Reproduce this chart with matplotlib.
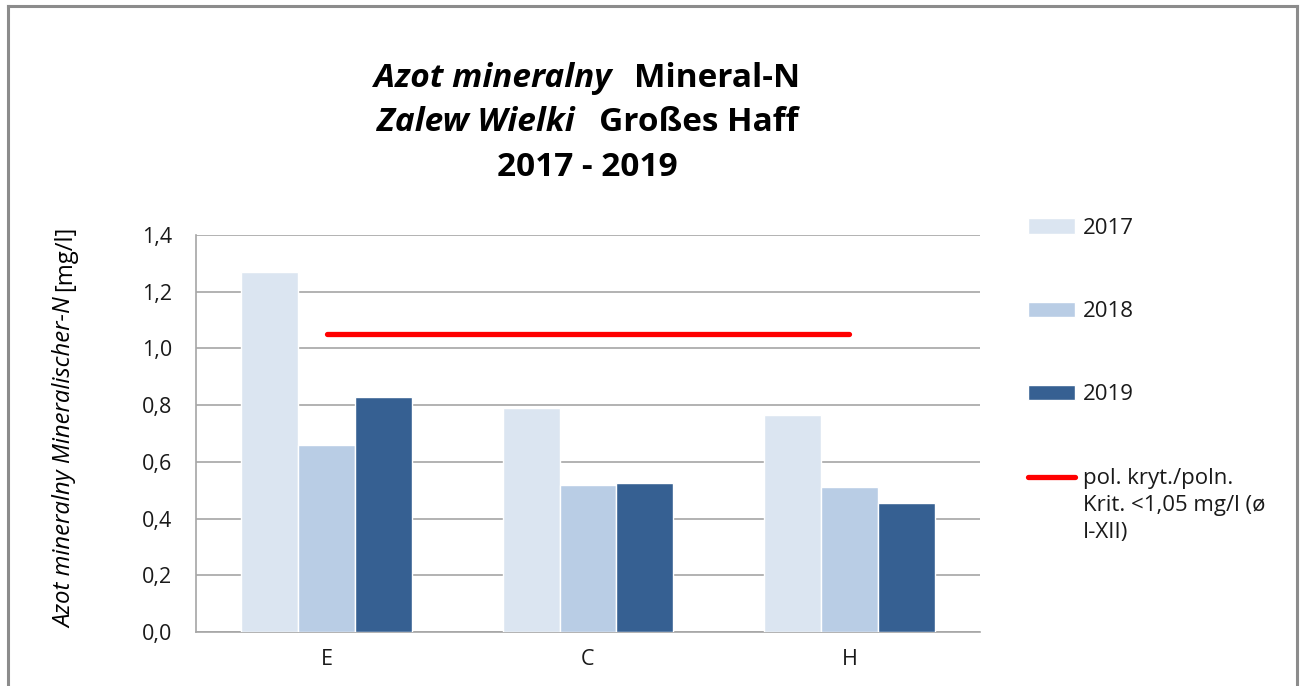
import matplotlib
matplotlib.use("Agg")
import matplotlib.pyplot as plt
import numpy as np
from matplotlib.transforms import IdentityTransform
from matplotlib.lines import Line2D
from matplotlib.ticker import FuncFormatter
from matplotlib.legend_handler import HandlerLine2D

# ---------------- data ----------------
stations = ["E", "C", "H"]
years = ["2017", "2018", "2019"]
values_2017 = [1.27, 0.79, 0.765]
values_2018 = [0.66, 0.52, 0.51]
values_2019 = [0.83, 0.527, 0.456]
criterion_value = 1.05
criterion_label = "pol. kryt./poln.\nKrit. <1,05 mg/l (ø\nI-XII)"
yticks = [0.0, 0.2, 0.4, 0.6, 0.8, 1.0, 1.2, 1.4]

colors = ["#dbe5f1", "#b9cde5", "#366092"]
FONT = "Open Sans"
plt.rcParams["font.family"] = [FONT, "DejaVu Sans"]

W, H = 1303, 686
fig = plt.figure(figsize=(W / 100, H / 100), dpi=100)
fig.patch.set_facecolor("white")

ax = fig.add_axes([196 / W, 1 - 632 / H, (980 - 196) / W, (632 - 235) / H])

x = np.arange(len(stations))
bw = 0.218
series = [values_2017, values_2018, values_2019]
handles = []
for i, (vals, yr) in enumerate(zip(series, years)):
    b = ax.bar(x + (i - 1) * bw, vals, width=bw, color=colors[i],
               edgecolor="white", linewidth=1.0, label=yr, zorder=3)
    handles.append(b)

crit, = ax.plot(x, [criterion_value] * len(x), color="#ff0000", lw=3.8,
                solid_capstyle="round", zorder=4, label=criterion_label)
handles.append(crit)

ax.set_xlim(-0.5, len(stations) - 0.5)
ax.set_ylim(0, 1.4)
ax.set_yticks(yticks)
ax.yaxis.set_major_formatter(FuncFormatter(lambda v, p: f"{v:.1f}".replace(".", ",")))
ax.set_xticks(x)
ax.set_xticklabels(stations)
ax.grid(axis="y", color="#a6a6a6", lw=1.2, zorder=0)
ax.set_axisbelow(True)
for s in ["top", "right"]:
    ax.spines[s].set_visible(False)
for s in ["left", "bottom"]:
    ax.spines[s].set_color("#a6a6a6")
    ax.spines[s].set_linewidth(1.2)
ax.tick_params(axis="y", length=0, pad=17, labelsize=15.5, labelcolor="#1a1a1a")
ax.tick_params(axis="x", length=0, pad=12, labelsize=15.5, labelcolor="#1a1a1a")


class TopLineHandler(HandlerLine2D):
    def __init__(self, shift, **kw):
        super().__init__(**kw)
        self.shift = shift

    def create_artists(self, legend, orig_handle, xdescent, ydescent, width,
                       height, fontsize, trans):
        arts = super().create_artists(legend, orig_handle, xdescent, ydescent,
                                      width, height, fontsize, trans)
        for a in arts:
            a.set_ydata(np.asarray(a.get_ydata(), dtype=float) + self.shift)
        return arts


# legend
leg = fig.legend(handles=handles, labels=years + [criterion_label],
                 loc="upper left", bbox_to_anchor=(1019 / W, 1 - 209 / H),
                 frameon=False, fontsize=16, labelspacing=2.8,
                 handlelength=2.12, handletextpad=0.36, borderaxespad=0,
                 handler_map={crit: TopLineHandler(shift=20.5)})
for t in leg.get_texts():
    t.set_color("#1a1a1a")
leg.get_texts()[3].set_linespacing(1.38)

# ---------- mixed-style text helper ----------
renderer = fig.canvas.get_renderer()

def mixed_line(pieces, cx, cy, size, rotation=0, gap=0.0):
    objs = []
    widths = []
    for txt, style, weight in pieces:
        t = fig.text(0, 0, txt, fontsize=size, style=style, weight=weight,
                     transform=IdentityTransform(), ha="left", va="baseline",
                     rotation=rotation, rotation_mode="anchor", color="black")
        bb = t.get_window_extent(renderer)
        w = bb.height if rotation == 90 else bb.width
        objs.append(t)
        widths.append(w)
    total = sum(widths) + gap * (len(pieces) - 1)
    pos = -total / 2
    for t, w in zip(objs, widths):
        if rotation == 90:
            t.set_position((cx, cy + pos))
        else:
            t.set_position((cx + pos, cy))
        pos += w + gap

title_size = 24
mixed_line([("Azot mineralny", "italic", "bold"), ("Mineral-N", "normal", "bold")],
           587, H - 87, title_size, gap=23)
mixed_line([("Zalew Wielki", "italic", "bold"), ("Großes Haff", "normal", "bold")],
           588, H - 131, title_size, gap=24)
mixed_line([("2017 - 2019", "normal", "bold")], 587, H - 176, title_size)

mixed_line([("Azot mineralny Mineralischer-N", "italic", "normal"),
            ("[mg/l]", "normal", "normal")], 71, H - 427, 17.2, rotation=90, gap=6)

# outer border
bc = "#8c8c8c"
fig.add_artist(Line2D([8 / W, 8 / W], [0, 1 - 6 / H], color=bc, lw=2.2))
fig.add_artist(Line2D([8 / W, 1297 / W], [1 - 6 / H, 1 - 6 / H], color=bc, lw=2.2))
fig.add_artist(Line2D([1297 / W, 1297 / W], [0, 1 - 6 / H], color=bc, lw=2.2))

fig.savefig("out.png", dpi=100)
